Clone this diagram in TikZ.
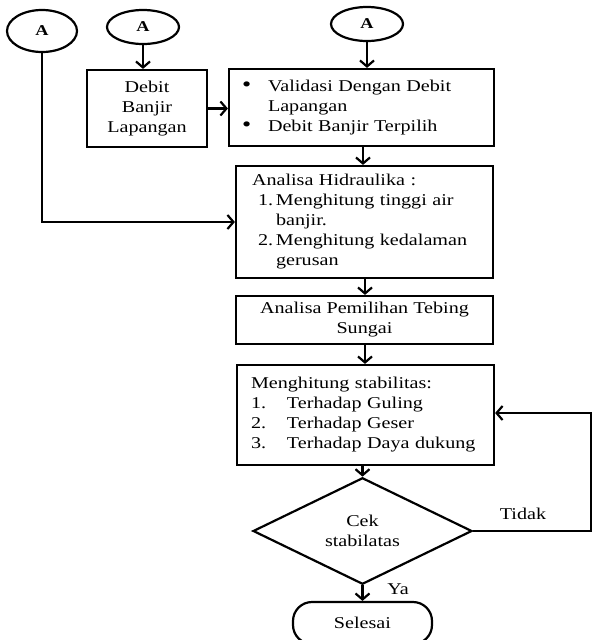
\documentclass[tikz,border=0pt]{standalone}
\usepackage{fontspec}
\setmainfont[FakeStretch=1.22]{Liberation Serif}
\usetikzlibrary{arrows.meta,shapes.geometric}
\begin{document}
\begin{tikzpicture}[x=1pt,y=-1pt,
  every node/.style={font=\fontsize{16.5}{20}\selectfont, inner sep=0pt},
  box/.style={draw, line width=2.2pt, rectangle},
  oval/.style={draw, line width=2.2pt, ellipse, font=\fontsize{15}{18}\selectfont\bfseries},
  conn/.style={line width=2.2pt},
  arr/.style={conn, -{Straight Barb[length=6pt,width=14pt]}},
  lbl/.style={font=\fontsize{16.5}{20}\selectfont},
  bul/.style={}
]
\useasboundingbox (0,0) rectangle (592,640);
\clip (0,0) rectangle (592,640);

% connectors A
\node[oval, minimum width=70, minimum height=42] (a1) at (42,31) {A};
\node[oval, minimum width=72, minimum height=34] (a2) at (143,27) {A};
\node[oval, minimum width=72, minimum height=34] (a3) at (367,24) {A};

% boxes
\node[box, minimum width=120, minimum height=77, align=center] (debit) at (147,108.5) {Debit\\Banjir\\Lapangan};

\node[box, text width=239, inner xsep=13, minimum height=77, align=left] (valid) at (361.5,107.5)
  {\makebox[26pt][l]{\scalebox{1.3}{\textbullet}}Validasi Dengan Debit\\
   \hspace*{26pt}Lapangan\\
   \makebox[26pt][l]{\scalebox{1.3}{\textbullet}}Debit Banjir Terpilih};

\node[box, text width=225, inner xsep=16, minimum height=112, align=left] (hidro) at (364.5,222)
  {Analisa Hidraulika :\\
   \makebox[24pt][l]{\hspace{6pt}1.}Menghitung tinggi air\\
   \hspace*{24pt}banjir.\\
   \makebox[24pt][l]{\hspace{6pt}2.}Menghitung kedalaman\\
   \hspace*{24pt}gerusan};

\node[box, minimum width=257, minimum height=48, align=center] (pilih) at (364.5,320)
  {Analisa Pemilihan Tebing\\Sungai};

\node[box, text width=229, inner xsep=14, minimum height=100, align=left] (stab) at (365.5,415)
  {Menghitung stabilitas:\\
   \makebox[36pt][l]{1.}Terhadap Guling\\
   \makebox[36pt][l]{2.}Terhadap Geser\\
   \makebox[36pt][l]{3.}Terhadap Daya dukung};

\node[diamond, draw, line width=2.2pt, minimum width=219, minimum height=102, align=center] (cek) at (362.5,531)
  {Cek\\stabilatas};

\node[draw, line width=2.2pt, rounded corners=19pt, minimum width=139, minimum height=42] (sel) at (362.5,623) {Selesai};

% connectors
\draw[arr] (a2.south) -- (a2.south |- debit.north);
\draw[arr] (a3.south) -- (a3.south |- valid.north);
\draw[arr] (debit.east) -- (debit.east -| valid.west);
\draw[arr] (a1.south) |- (hidro.west);
\draw[arr] (valid.south -| 363,0) -- (hidro.north -| 363,0);
\draw[arr] (hidro.south -| 365,0) -- (pilih.north -| 365,0);
\draw[arr] (pilih.south -| 365,0) -- (stab.north -| 365,0);
\draw[arr] (stab.south -| cek.north) -- (cek.north);
\draw[arr] (cek.south) -- (sel.north);

\coordinate (rt) at (591,413);
\draw[arr] (cek.east) -- (cek.east -| rt) -- (rt) -- (rt -| stab.east);

\node[lbl] (tidak) at (523,514) {Tidak};
\node[lbl] (ya) at (398,589) {Ya};
\end{tikzpicture}
\end{document}
